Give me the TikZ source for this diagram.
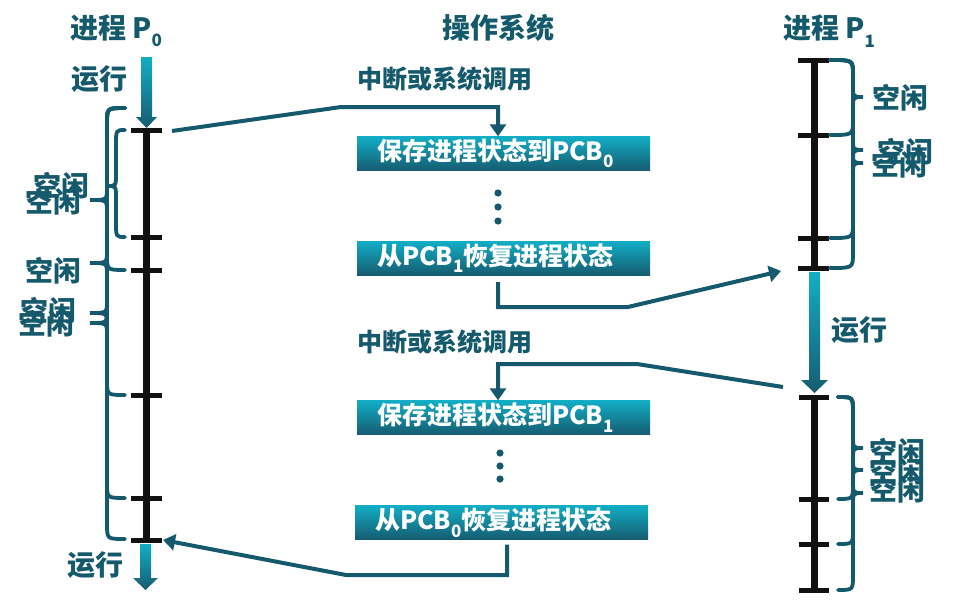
\documentclass[tikz,border=0pt]{standalone}
\usepackage{fontspec}
\setmainfont{Noto Sans CJK SC}
\usetikzlibrary{arrows.meta}
\definecolor{tl}{RGB}{21,90,108}
\definecolor{cyanT}{RGB}{18,174,198}
\definecolor{tealB}{RGB}{22,92,112}
\definecolor{barc}{RGB}{17,17,17}
\newcommand{\subs}[1]{\raisebox{-0.3em}{\fontsize{17}{17}\selectfont #1}}
% brace: x0, y1, y2, ytip, spine offset, tip offset
\newcommand{\brc}[6]{\draw[brcs] (#1,#2) .. controls ({#1+#5},#2) .. ({#1+#5},{#2+15}) -- ({#1+#5},{#4-12}) .. controls ({#1+#5},#4) .. ({#1+#6},#4) .. controls ({#1+#5},#4) .. ({#1+#5},{#4+12}) -- ({#1+#5},{#3-15}) .. controls ({#1+#5},#3) .. (#1,#3);}
\begin{document}
\begin{tikzpicture}[x=1pt,y=-1pt,
  lbl/.style={text=tl, font=\fontsize{28}{30}\selectfont\bfseries, inner sep=0pt},
  sm/.style={text=tl, font=\fontsize{25}{28}\selectfont\bfseries, inner sep=0pt},
  box/.style={top color=cyanT, bottom color=tealB, text=white, minimum height=34pt,
    text width=253pt, inner xsep=20pt, inner ysep=0pt, align=left,
    font=\fontsize{25}{28}\selectfont\bfseries},
  timeline/.style={draw=barc, line width=7pt},
  tick/.style={draw=barc, line width=5pt},
  brcs/.style={draw=tl, line width=3.8pt, line cap=round},
  conn/.style={draw=tl, line width=4pt, -{Triangle[width=16pt,length=12pt]}},
  grad/.style={top color=cyanT, bottom color=tealB, draw=none}]
\useasboundingbox (0,0) rectangle (955,600);
\fill[white] (0,0) rectangle (955,600);

% titles
\node[lbl] (p0t) at (116,31) {进程 P\subs{0}};
\node[lbl] (ost) at (498,28) {操作系统};
\node[lbl] (p1t) at (829,31) {进程 P\subs{1}};

% P0 timeline
\shade[grad] (141,57) -- (152,57) -- (152,117) -- (157,117) -- (146.5,128) -- (136,117) -- (141,117) -- cycle;
\node[lbl] (run1) at (99,79) {运行};
\draw[timeline] (146,130) -- (146,540);
\foreach \y in {130,237,270,395,498,540} \draw[tick] (131,\y) -- (162,\y);
\shade[grad] (140,544) -- (151,544) -- (151,578) -- (158,578) -- (145.5,590) -- (133,578) -- (140,578) -- cycle;
\node[lbl] (run2) at (95,565) {运行};

% P0 braces
\brc{125}{108}{539}{323}{-18}{-35}
\brc{125}{108}{498}{313}{-18}{-35}
\brc{125}{108}{395}{263}{-18}{-35}
\brc{125}{108}{270}{200}{-18}{-35}
\brc{125}{130}{237}{186}{-9}{-18}
\node[lbl] (i1) at (61,186) {空闲};
\node[lbl] (i2) at (53,202) {空闲};
\node[lbl] (i3) at (53,271) {空闲};
\node[lbl] (i4) at (48,311) {空闲};
\node[lbl] (i5) at (46,324) {空闲};

% P1 timeline
\draw[timeline] (814,60) -- (814,268);
\foreach \y in {60,135,238,268} \draw[tick] (798,\y) -- (829,\y);
\shade[grad] (809,272) -- (820,272) -- (820,380) -- (828,380) -- (814.5,393) -- (801,380) -- (809,380) -- cycle;
\node[lbl] (run3) at (859,330) {运行};
\draw[timeline] (814,397) -- (814,590);
\foreach \y in {397,499,544,590} \draw[tick] (799,\y) -- (829,\y);
\coordinate (p1a) at (781,271);
\coordinate (p1b) at (783,387);

% P1 braces
\brc{830}{60}{135}{97}{23}{33}
\brc{830}{60}{238}{150}{23}{33}
\brc{830}{60}{268}{163}{23}{33}
\brc{838}{397}{499}{448}{15}{25}
\brc{838}{397}{544}{470}{15}{25}
\brc{838}{397}{590}{493}{15}{25}
\node[lbl] (j1) at (900,98) {空闲};
\node[lbl] (j2) at (905,152) {空闲};
\node[lbl] (j3) at (899,165) {空闲};
\node[lbl] (j4) at (897,452) {空闲};
\node[lbl] (j5) at (897,472) {空闲};
\node[lbl] (j6) at (897,490) {空闲};

% OS column
\node[sm] (int1) at (445,79) {中断或系统调用};
\node[box] (b1) at (503.5,153.5) {保存进程状态到PCB\subs{0}};
\fill[tl] (498,193) circle (3.6) (498,207) circle (3.6) (498,221) circle (3.6);
\node[box] (b2) at (503.5,258) {从PCB\subs{1}恢复进程状态};
\node[sm] (int2) at (445,342) {中断或系统调用};
\node[box] (b3) at (503.5,417.5) {保存进程状态到PCB\subs{1}};
\fill[tl] (500,453) circle (3.6) (500,466) circle (3.6) (500,479) circle (3.6);
\node[box] (b4) at (501.5,522.5) {从PCB\subs{0}恢复进程状态};

% connectors
\coordinate (c1s) at (172,131);
\coordinate (c1m) at (341,107);
\draw[conn] (c1s) -- (c1m) -| ([xshift=-5.5pt]b1.north);
\coordinate (c2s) at ([xshift=-5.5pt,yshift=-7pt]b2.south);
\coordinate (c2m) at (628,307);
\draw[conn] (c2s) |- (c2m) -- (p1a);
\coordinate (c3m) at (637,364);
\draw[conn] (p1b) -- (c3m) -| ([xshift=-5.5pt]b3.north);
\coordinate (c4s) at ([xshift=5.5pt,yshift=-5pt]b4.south);
\coordinate (c4m) at (346,575);
\draw[conn] (c4s) |- (c4m) -- (163,540);
\end{tikzpicture}
\end{document}
